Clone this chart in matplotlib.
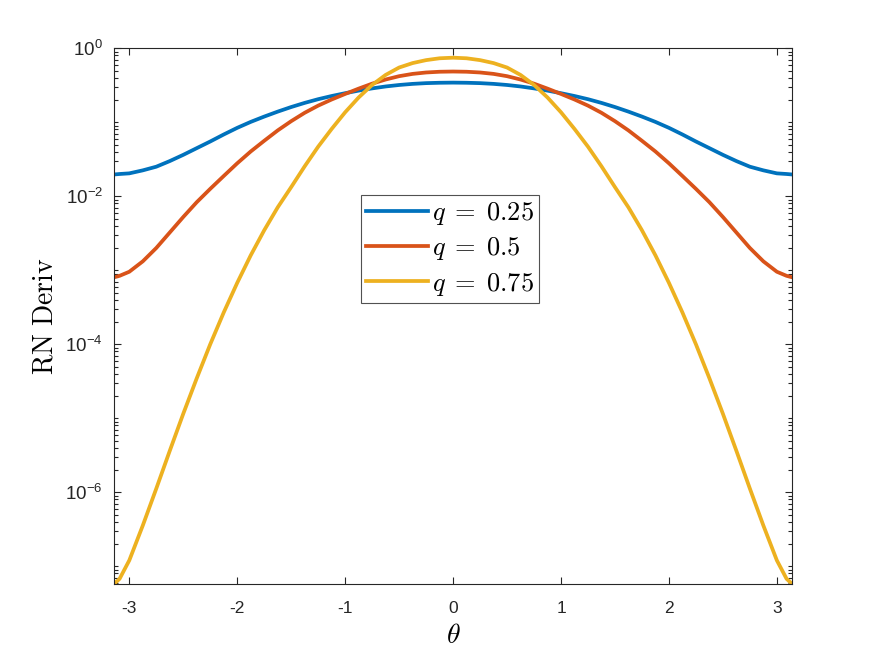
import numpy as np
import matplotlib
matplotlib.use("Agg")
import matplotlib.pyplot as plt
from matplotlib.ticker import FixedLocator, LogLocator, NullFormatter

plt.rcParams['mathtext.fontset'] = 'cm'
plt.rcParams['font.family'] = ['Liberation Sans', 'DejaVu Sans']
plt.rcParams['axes.unicode_minus'] = False

# values (theta from -pi to pi)
theta = [-3.1416, -3.09, -3.0, -2.875, -2.75, -2.625, -2.5, -2.375, -2.25, -2.125, -2.0, -1.875, -1.75,
         -1.625, -1.5, -1.375, -1.25, -1.125, -1.0, -0.875, -0.75, -0.625, -0.5, -0.375, -0.25, -0.125,
         0.0,
         0.125, 0.25, 0.375, 0.5, 0.625, 0.75, 0.875, 1.0, 1.125, 1.25, 1.375, 1.5, 1.625,
         1.75, 1.875, 2.0, 2.125, 2.25, 2.375, 2.5, 2.625, 2.75, 2.875, 3.0, 3.09, 3.1416]

deriv_q025 = [0.0197, 0.0200, 0.0204, 0.0224, 0.0251, 0.0299, 0.0363, 0.0447, 0.0550, 0.0684, 0.0841, 0.1012, 0.1194,
              0.1393, 0.1607, 0.1828, 0.2051, 0.2265, 0.2472, 0.2679, 0.2871, 0.3048, 0.3192, 0.3304, 0.3381, 0.3420,
              0.3436,
              0.3420, 0.3381, 0.3304, 0.3192, 0.3048, 0.2871, 0.2679, 0.2472, 0.2265, 0.2051, 0.1828, 0.1607, 0.1393,
              0.1194, 0.1012, 0.0841, 0.0684, 0.0550, 0.0447, 0.0363, 0.0299, 0.0251, 0.0224, 0.0204, 0.0200, 0.0197]

deriv_q050 = [8.04e-4, 8.41e-4, 9.55e-4, 1.32e-3, 2.00e-3, 3.24e-3, 5.25e-3, 8.32e-3, 0.0126, 0.0188, 0.0279, 0.0403, 0.0562,
              0.0776, 0.1035, 0.1343, 0.1679, 0.2032, 0.2415, 0.2851, 0.3327, 0.3784, 0.4198, 0.4508, 0.4710, 0.4819,
              0.4853,
              0.4819, 0.4710, 0.4508, 0.4198, 0.3784, 0.3327, 0.2851, 0.2415, 0.2032, 0.1679, 0.1343, 0.1035, 0.0776,
              0.0562, 0.0403, 0.0279, 0.0188, 0.0126, 8.32e-3, 5.25e-3, 3.24e-3, 2.00e-3, 1.32e-3, 9.55e-4, 8.41e-4, 8.04e-4]

deriv_q075 = [5.75e-8, 6.76e-8, 1.20e-7, 3.55e-7, 1.12e-6, 3.63e-6, 1.15e-5, 3.47e-5, 1.00e-4, 2.69e-4, 6.76e-4, 1.59e-3, 3.47e-3,
              7.08e-3, 0.0133, 0.0254, 0.0468, 0.0813, 0.1365, 0.2163, 0.3199, 0.4365, 0.5495, 0.6310, 0.6918, 0.7328,
              0.7464,
              0.7328, 0.6918, 0.6310, 0.5495, 0.4365, 0.3199, 0.2163, 0.1365, 0.0813, 0.0468, 0.0254, 0.0133, 7.08e-3,
              3.47e-3, 1.59e-3, 6.76e-4, 2.69e-4, 1.00e-4, 3.47e-5, 1.15e-5, 3.63e-6, 1.12e-6, 3.55e-7, 1.20e-7, 6.76e-8, 5.75e-8]

labels = [r'$q \;=\; 0.25$', r'$q \;=\; 0.5$', r'$q \;=\; 0.75$']
colors = ['#0072BD', '#D95319', '#EDB120']

fig = plt.figure(figsize=(8.75, 6.57), dpi=100)
ax = fig.add_axes([0.1303, 0.1111, 0.775, 0.8154])

for y, lab, c in zip([deriv_q025, deriv_q050, deriv_q075], labels, colors):
    ax.plot(theta, y, color=c, linewidth=2.7, label=lab, solid_joinstyle='round')

ax.set_yscale('log')
ax.set_xlim(-np.pi, np.pi)
ax.set_ylim(min(deriv_q075), 1)

ax.xaxis.set_major_locator(FixedLocator([-3, -2, -1, 0, 1, 2, 3]))
ax.yaxis.set_major_locator(FixedLocator([1e-6, 1e-4, 1e-2, 1]))
ax.yaxis.set_minor_locator(LogLocator(base=10, subs=np.arange(1, 10), numticks=30))
ax.yaxis.set_minor_formatter(NullFormatter())

edge = '#262626'
for s in ax.spines.values():
    s.set_color(edge)
    s.set_linewidth(0.8)
ax.tick_params(which='both', direction='in', top=True, right=True, colors=edge, labelcolor='#262626')
ax.tick_params(which='major', length=5, width=0.8)
ax.tick_params(which='minor', length=3, width=0.8)
ax.tick_params(axis='x', pad=12, labelsize=12.5)
ax.tick_params(axis='y', pad=8, labelsize=13.5)

ax.set_xlabel(r'$\theta$', fontsize=20, labelpad=5)
ax.set_ylabel(r'$\mathrm{RN\ Deriv}$', fontsize=20, labelpad=5)

leg = ax.legend(loc='upper left', bbox_to_anchor=(0.364, 0.727), fontsize=19, frameon=True, fancybox=False,
                handlelength=2.35, handletextpad=0.15, borderpad=0.2, labelspacing=0.32, borderaxespad=0)
leg.get_frame().set_edgecolor('#262626')
leg.get_frame().set_linewidth(0.8)

fig.savefig('out.png', dpi=100)
